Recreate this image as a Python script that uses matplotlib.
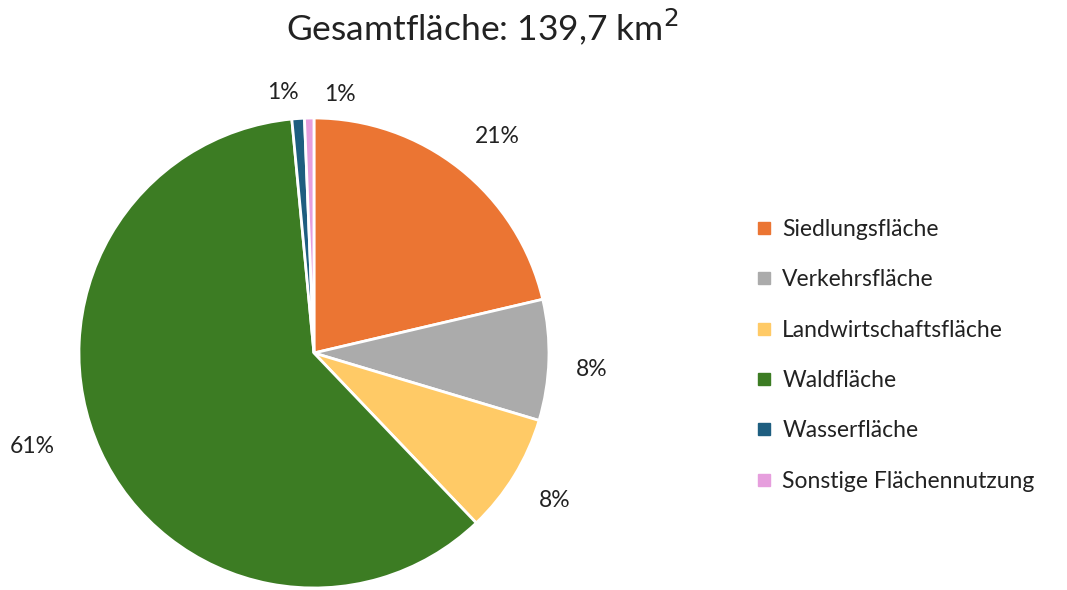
import matplotlib.pyplot as plt
from matplotlib.lines import Line2D

# land use areas in km², total 139,7
categories = ['Siedlungsfläche', 'Verkehrsfläche', 'Landwirtschaftsfläche',
              'Waldfläche', 'Wasserfläche', 'Sonstige Flächennutzung']
areas = [29.8, 11.6, 11.5, 84.7, 1.2, 0.9]
colors = ['#EB7533', '#ABABAB', '#FFCA66', '#3C7C23', '#1E5E80', '#E69EDD']

plt.rcParams['font.family'] = ['Lato', 'DejaVu Sans']

fig = plt.figure(figsize=(10.67, 5.9), dpi=100)
ax = fig.add_axes([0.0740, 0.0034, 0.4405, 0.7966])

wedges, texts, pcts = ax.pie(
    areas,
    colors=colors,
    startangle=90,
    counterclock=False,
    radius=1.0,
    autopct='%1.0f%%',
    pctdistance=1.2,
    wedgeprops=dict(edgecolor='white', linewidth=2),
    textprops=dict(fontsize=16.5, color='#222222'),
)
ax.set_xlim(-1, 1)
ax.set_ylim(-1, 1)
ax.set_aspect('equal')

# small slices at the top: spread their labels apart
pcts[4].set_position((-0.13, 1.11))
pcts[5].set_position((0.11, 1.10))
pcts[0].set_position((0.78, 0.92))
pcts[1].set_position((1.18, -0.07))
pcts[3].set_position((-1.20, -0.40))

fig.text(0.452, 0.955, 'Gesamtfläche: 139,7 km$^2$', ha='center', va='center',
         fontsize=25.5, color='#222222')

handles = [Line2D([], [], marker='s', linestyle='', markersize=9,
                  markerfacecolor=c, markeredgecolor=c) for c in colors]
fig.legend(handles, categories, loc='upper left',
           bbox_to_anchor=(0.687, 0.664), frameon=False,
           fontsize=16.5, labelspacing=1.28, handlelength=0.9,
           handletextpad=0.35, labelcolor='#222222')

fig.savefig('out.png', dpi=100)
